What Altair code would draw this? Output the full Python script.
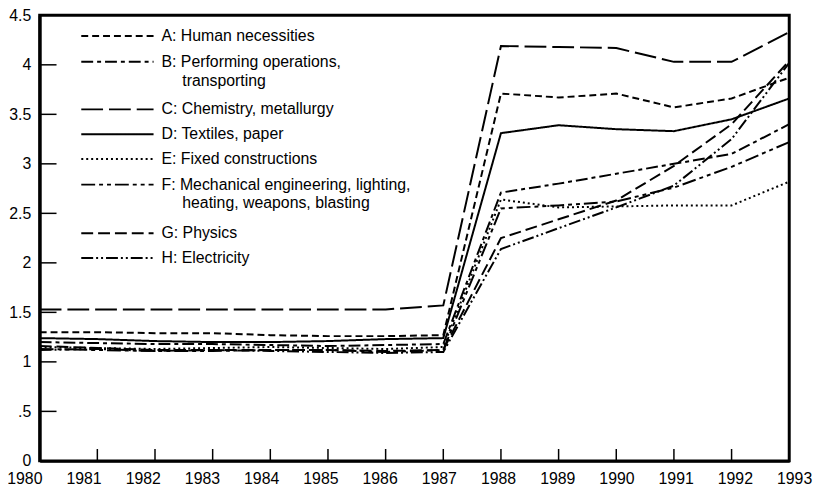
import altair as alt
import pandas as pd

years = list(range(1980, 1994))
codes = ["A", "B", "C", "D", "E", "F", "G", "H"]

series_A = [1.30, 1.30, 1.29, 1.29, 1.27, 1.26, 1.26, 1.27, 3.71, 3.67, 3.71, 3.57, 3.66, 3.87]
series_B = [1.20, 1.19, 1.18, 1.18, 1.17, 1.16, 1.17, 1.18, 2.71, 2.80, 2.90, 3.00, 3.10, 3.40]
series_C = [1.53, 1.53, 1.53, 1.53, 1.53, 1.53, 1.53, 1.57, 4.19, 4.18, 4.17, 4.03, 4.03, 4.33]
series_D = [1.24, 1.23, 1.21, 1.20, 1.20, 1.21, 1.23, 1.24, 3.31, 3.39, 3.35, 3.33, 3.45, 3.66]
series_E = [1.15, 1.14, 1.13, 1.14, 1.15, 1.14, 1.13, 1.15, 2.64, 2.56, 2.57, 2.58, 2.58, 2.82]
series_F = [1.13, 1.12, 1.11, 1.11, 1.12, 1.12, 1.10, 1.12, 2.55, 2.58, 2.62, 2.76, 2.97, 3.22]
series_G = [1.16, 1.14, 1.12, 1.12, 1.12, 1.12, 1.11, 1.12, 2.25, 2.44, 2.63, 2.98, 3.40, 4.04]
series_H = [1.12, 1.13, 1.11, 1.12, 1.11, 1.10, 1.09, 1.10, 2.14, 2.35, 2.56, 2.78, 3.25, 4.02]

legend_labels = [
    ["A: Human necessities"],
    ["B: Performing operations,", "transporting"],
    ["C: Chemistry, metallurgy"],
    ["D: Textiles, paper"],
    ["E: Fixed constructions"],
    ["F: Mechanical engineering, lighting,", "heating, weapons, blasting"],
    ["G: Physics"],
    ["H: Electricity"],
]

y_tick_values = [0, 0.5, 1, 1.5, 2, 2.5, 3, 3.5, 4, 4.5]
y_inner_ticks = [0.5, 1, 1.5, 2, 2.5, 3, 3.5, 4]
x_inner_ticks = list(range(1981, 1993))

# styles
dashes = [[7, 4], [12, 4, 4, 4], [22, 6], [1, 0], [2, 3], [14, 4, 4, 4, 4, 4], [12, 5], [12, 3, 2, 3, 2, 3]]
FONT = "Liberation Sans"
PLOT_W, PLOT_H = 757, 450

all_series = [series_A, series_B, series_C, series_D, series_E, series_F, series_G, series_H]
rows = []
for c, s in zip(codes, all_series):
    for yr, v in zip(years, s):
        rows.append({"year": yr, "value": v, "code": c})
df = pd.DataFrame(rows)

xscale = alt.Scale(domain=[1980, 1993], nice=False, zero=False)
yscale = alt.Scale(domain=[0, 4.5], nice=False)
dash_scale = alt.Scale(domain=codes, range=dashes)

x_axis = alt.Axis(values=years, ticks=False, labels=False, domainColor="black", domainWidth=3,
                  grid=False, title=None)
y_axis = alt.Axis(values=y_tick_values, ticks=False, labelFontSize=16, labelFont=FONT,
                  labelColor="black", domainColor="black", domainWidth=3, grid=False,
                  title=None, labelPadding=9,
                  labelExpr="datum.value == 0.5 ? '.5' : toString(datum.value)")

lines = alt.Chart(df).mark_line(color="black", strokeWidth=2).encode(
    x=alt.X("year:Q", scale=xscale, axis=x_axis),
    y=alt.Y("value:Q", scale=yscale, axis=y_axis),
    strokeDash=alt.StrokeDash("code:N", scale=dash_scale, legend=None),
    detail="code:N",
)

yt = alt.Chart(pd.DataFrame({"v": y_inner_ticks})).mark_rule(color="black", strokeWidth=1.5).encode(
    y=alt.Y("v:Q", scale=yscale), x=alt.value(0), x2=alt.value(17)
)
xt = alt.Chart(pd.DataFrame({"yr": x_inner_ticks})).mark_rule(color="black", strokeWidth=1.5).encode(
    x=alt.X("yr:Q", scale=xscale), y=alt.value(PLOT_H), y2=alt.value(PLOT_H - 12)
)

# year labels: spread slightly wider than the tick spacing, as in the original typesetting
tick_step = PLOT_W / 13.0
label_start = -15.0
label_step = 59.8
xl = alt.Chart(pd.DataFrame({"yr": years})).transform_calculate(
    xpos=f"1980 + ({label_start} + (datum.yr - 1980) * {label_step}) / {tick_step}",
    lab="toString(datum.yr)",
).mark_text(baseline="top", align="center", font=FONT, fontSize=16, color="black").encode(
    x=alt.X("xpos:Q", scale=xscale), y=alt.value(PLOT_H + 10), text="lab:N"
)

layers = [lines, yt, xt, xl]

# legend (layout in pixels)
row_y = [21, 47, 95, 120, 145, 171, 220, 245]
base = alt.Chart(pd.DataFrame({"d": [0]}))
for i, c in enumerate(codes):
    py = row_y[i]
    layers.append(base.mark_rule(color="black", strokeWidth=2, strokeDash=dashes[i]).encode(
        x=alt.value(42), x2=alt.value(115), y=alt.value(py)))
    for j, txt in enumerate(legend_labels[i]):
        tx = 123 if j == 0 else 144
        layers.append(base.mark_text(align="left", baseline="middle", font=FONT, fontSize=16,
                                     color="black").encode(
            x=alt.value(tx), y=alt.value(py + 19 * j), text=alt.value(txt)))

chart = alt.layer(*layers).properties(
    width=PLOT_W, height=PLOT_H,
    padding={"left": 32, "top": 5, "right": 24, "bottom": 26},
    autosize=alt.AutoSizeParams(type="none"),
).configure_view(stroke="black", strokeWidth=3)

chart.save("out.html", embed_options={"renderer": "svg", "actions": False})
